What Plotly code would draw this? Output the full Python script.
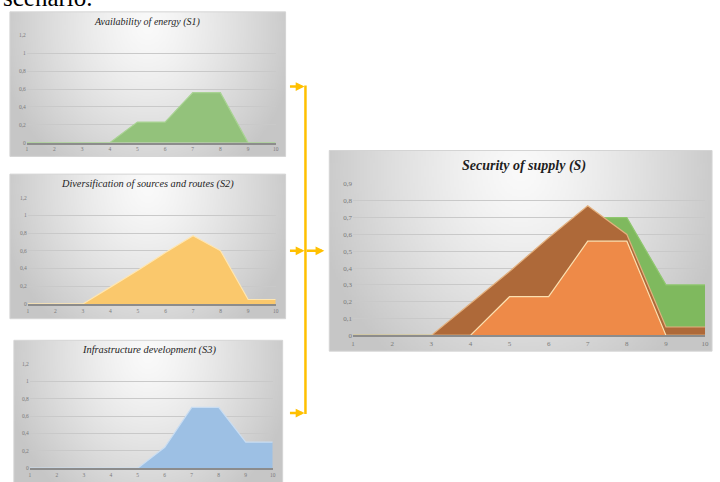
import base64, struct, zlib
import numpy as np
import plotly.graph_objects as go

W, H = 720, 482

# ---- data ----
steps = [1, 2, 3, 4, 5, 6, 7, 8, 9, 10]
s1_availability = [0, 0, 0, 0, 0.23, 0.23, 0.56, 0.56, 0, 0]
s2_diversification = [0, 0, 0, 0.19, 0.38, 0.58, 0.77, 0.60, 0.05, 0.05]
s3_infrastructure = [0, 0, 0, 0, 0, 0.24, 0.70, 0.70, 0.30, 0.30]

title_s1 = "Availability of energy (S1)"
title_s2 = "Diversification of sources and routes (S2)"
title_s3 = "Infrastructure development (S3)"
title_s = "Security of supply (S)"


def px(x):
    return x / W


def py(y):
    return 1 - y / H


# ---- gradient background as a small PNG ----
def make_png(arr):
    h, w, _ = arr.shape
    raw = b"".join(b"\x00" + arr[r].tobytes() for r in range(h))

    def chunk(tag, data):
        return (struct.pack(">I", len(data)) + tag + data +
                struct.pack(">I", zlib.crc32(tag + data) & 0xffffffff))
    png = b"\x89PNG\r\n\x1a\n"
    png += chunk(b"IHDR", struct.pack(">IIBBBBB", w, h, 8, 2, 0, 0, 0))
    png += chunk(b"IDAT", zlib.compress(raw, 9))
    png += chunk(b"IEND", b"")
    return "data:image/png;base64," + base64.b64encode(png).decode()


gw, gh = 240, 140
gx = np.linspace(0, 1, gw)[None, :]
gy = np.linspace(0, 1, gh)[:, None]
d = np.sqrt(((gx - 0.5) / 0.55) ** 2 + ((gy - 0.1) / 1.2) ** 2)
d = np.clip(d, 0, 1)
v = 250 - 52 * d ** 1.3
grad = np.repeat(v[:, :, None], 3, axis=2).astype(np.uint8)
grad_src = make_png(grad)

fig = go.Figure()

# panel rectangles (pixels): x0, y0, x1, y1
panels = [
    (8, 8, 286, 155),
    (8, 173, 286, 320),
    (12, 342, 283, 490),
    (330, 149, 716, 353),
]
images = []
shapes = []
for (x0, y0, x1, y1) in panels:
    images.append(dict(source=grad_src, xref="paper", yref="paper",
                       x=px(x0), y=py(y0), sizex=px(x1) - px(x0),
                       sizey=py(y0) - py(y1), xanchor="left", yanchor="top",
                       sizing="stretch", layer="below"))
    shapes.append(dict(type="rect", xref="paper", yref="paper",
                       x0=px(x0), x1=px(x1), y0=py(y1), y1=py(y0),
                       line=dict(color="#d4d4d4", width=1), layer="below"))

# plot areas (pixels): x at 1, x at 10, y top, y at 0
areas = [
    (25, 276, 32, 141),
    (26, 276, 197, 305),
    (28, 273, 366, 472),
    (354, 709, 183, 337),
]

serif = "Liberation Serif, Times New Roman, serif"

def add_area(yvals, axis_idx, fill, line):
    sfx = "" if axis_idx == 1 else str(axis_idx)
    fig.add_trace(go.Scatter(x=steps, y=yvals, mode="lines", fill="tozeroy",
                             fillcolor=fill, line=dict(color=line, width=1.2),
                             xaxis="x" + sfx, yaxis="y" + sfx,
                             showlegend=False, hoverinfo="skip"))

add_area(s1_availability, 1, "#93C27B", "#A9D393")
add_area(s2_diversification, 2, "#FAC86C", "#FFE6B0")
add_area(s3_infrastructure, 3, "#9DC0E4", "#C9DDF2")
add_area(s3_infrastructure, 4, "#7FB95E", "#8FC76E")
add_area(s2_diversification, 4, "#AE6939", "#E3B07E")
add_area(s1_availability, 4, "#EE8A48", "#FBE0B0")

layout_axes = {}
for i, (xa, xb, yt, yb) in enumerate(areas, start=1):
    sfx = "" if i == 1 else str(i)
    big = (i == 4)
    layout_axes["xaxis" + sfx] = dict(
        domain=[px(xa), px(xb)], anchor="y" + sfx, range=[1, 10],
        tickmode="linear", tick0=1, dtick=1, showgrid=False, zeroline=False,
        showline=True, linecolor="#8c8c8c", linewidth=2,
        tickfont=dict(family=serif, size=7 if big else 5.5, color="#7a7a7a"),
        ticks="", ticklen=0, fixedrange=True)
    layout_axes["yaxis" + sfx] = dict(
        domain=[py(yb), py(yt)], anchor="x" + sfx,
        range=[0, 0.9] if big else [0, 1.2],
        tickmode="linear", tick0=0, dtick=0.1 if big else 0.2,
        showgrid=True, gridcolor="#c9c9c9", gridwidth=1, zeroline=False,
        showline=False,
        tickfont=dict(family=serif, size=7 if big else 5.5, color="#7a7a7a"),
        ticks="", fixedrange=True)

annotations = []
for text, cx, cy, size, bold in [
    (title_s1, 147, 18, 10, False),
    (title_s2, 147, 183, 10.3, False),
    (title_s3, 148, 352, 10.4, False),
    (title_s, 526, 165, 14, True),
]:
    t = "<i>" + text + "</i>"
    if bold:
        t = "<b>" + t + "</b>"
    annotations.append(dict(text=t, x=px(cx), y=py(cy), xref="paper",
                            yref="paper", xanchor="center", yanchor="middle",
                            showarrow=False,
                            font=dict(family=serif, size=size, color="#1e1e1e")))

# cut-off caption text at the top
annotations.append(dict(text="scenario.", x=px(-1), y=py(9), xref="paper",
                        yref="paper", xanchor="left", yanchor="bottom",
                        showarrow=False,
                        font=dict(family=serif, size=25, color="#000000")))

# connector arrows
arrow_col = "#FFC000"
for ay_px in (84, 251, 416):
    annotations.append(dict(text="", x=px(305), y=py(ay_px), xref="paper",
                            yref="paper", showarrow=True, ax=-16, ay=0,
                            arrowhead=2, arrowsize=0.7, arrowwidth=2.5,
                            arrowcolor=arrow_col))
annotations.append(dict(text="", x=px(325), y=py(251), xref="paper",
                        yref="paper", showarrow=True, ax=-19, ay=0,
                        arrowhead=2, arrowsize=0.7, arrowwidth=2.5,
                        arrowcolor=arrow_col))
shapes.append(dict(type="line", xref="paper", yref="paper",
                   x0=px(306), x1=px(306), y0=py(83), y1=py(417),
                   line=dict(color=arrow_col, width=2.5)))

fig.update_layout(
    width=W, height=H, margin=dict(l=0, r=0, t=0, b=0),
    paper_bgcolor="white", plot_bgcolor="rgba(0,0,0,0)",
    separators=",.", showlegend=False,
    images=images, shapes=shapes, annotations=annotations,
    **layout_axes,
)

fig.write_html(
    "out.html",
    config={"displayModeBar": False, "staticPlot": True},
    post_script="document.body.style.margin='0';"
                "document.body.style.padding='0';"
                "document.body.style.overflow='hidden';",
)
